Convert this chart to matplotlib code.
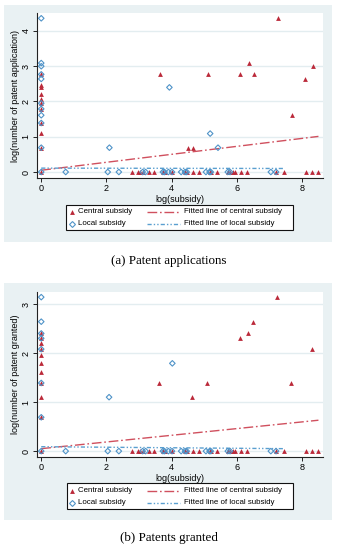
import matplotlib
matplotlib.use("Agg")
import matplotlib.pyplot as plt
from matplotlib.patches import Rectangle
from matplotlib.lines import Line2D

# ---------------- data ----------------
# shared zero-row x positions (log subsidy)
zero_central_x = [2.77, 2.96, 3.03, 3.11, 3.30, 3.46, 3.73, 3.78, 4.01, 4.41, 4.46, 4.64,
                  4.85, 5.16, 5.20, 5.38, 5.72, 5.79, 5.89, 5.94, 6.12, 6.32, 7.20, 7.43,
                  8.12, 8.30, 8.50]
zero_local_x = [0.75, 2.04, 2.38, 3.11, 3.20, 3.73, 3.78, 3.90, 4.01, 4.29, 4.41, 4.46,
                5.05, 5.16, 5.20, 5.72, 5.79, 7.04, 7.20]

# panel (a): patent applications
a_central_x = [0, 0, 0, 0, 0, 0, 0, 0, 0, 0, 0,
               3.63, 5.10, 6.10, 6.36, 6.51, 7.25, 7.70, 8.08, 8.33, 4.49, 4.64]
a_central_y = [2.77, 2.48, 2.40, 2.20, 2.08, 1.95, 1.79, 1.39, 1.10, 0.69, 0.0,
               2.77, 2.77, 2.77, 3.09, 2.77, 4.38, 1.61, 2.64, 3.00, 0.69, 0.69]
a_local_x = [0, 0, 0, 0, 0, 0, 0, 0, 0, 0, 0,
             3.93, 5.18, 2.09, 5.42]
a_local_y = [4.36, 3.09, 3.00, 2.77, 2.64, 1.95, 1.79, 1.61, 1.39, 0.69, 0.0,
             2.40, 1.09, 0.69, 0.69]
a_fit_central_x = [0.0, 8.5]
a_fit_central_y = [0.05, 1.01]
a_fit_local_x = [0.0, 7.43]
a_fit_local_y = [0.11, 0.10]

# panel (b): patents granted
b_central_x = [0, 0, 0, 0, 0, 0, 0, 0, 0, 0, 0,
               3.61, 4.62, 5.09, 6.09, 6.33, 6.49, 7.23, 7.66, 8.31]
b_central_y = [2.40, 2.30, 2.20, 2.08, 1.95, 1.79, 1.61, 1.39, 1.10, 0.69, 0.0,
               1.39, 1.10, 1.39, 2.30, 2.40, 2.64, 3.14, 1.39, 2.08]
b_local_x = [0, 0, 0, 0, 0, 0, 0, 0,
             2.08, 4.02]
b_local_y = [3.14, 2.64, 2.40, 2.30, 2.08, 1.39, 0.69, 0.0,
             1.10, 1.79]
b_fit_central_x = [0.0, 8.5]
b_fit_central_y = [0.05, 0.63]
b_fit_local_x = [0.0, 7.43]
b_fit_local_y = [0.09, 0.05]

x_ticks = [0, 2, 4, 6, 8]
a_y_ticks = [0, 1, 2, 3, 4]
b_y_ticks = [0, 1, 2, 3]

legend_labels = ["Central subsidy", "Local subsidy",
                 "Fitted line of central subsidy", "Fitted line of local subsidy"]
captions = ["(a) Patent applications", "(b) Patents granted"]
y_labels = ["log(number of patent application)", "log(number of patent granted)"]
x_label = "log(subsidy)"

# ---------------- style ----------------
W, H = 338, 550
RED = "#bb2a3a"
BLUE = "#4f93c8"
RED_LINE = "#d0505e"
BLUE_LINE = "#5a9fd0"
PANEL_BG = "#e9f1f3"
GRID = "#e3edf0"
FONT = "Liberation Sans"

fig = plt.figure(figsize=(W / 100, H / 100), dpi=100)
fig.patch.set_facecolor("white")

def fx(px):
    return px / W

def fy(py):
    return 1 - py / H

panels = [
    dict(box=(4, 5, 332, 242), ax=(37, 13, 323, 178), ylim=(-0.17, 4.51),
         leg=(66, 205, 293, 230), rows=(211.7, 223.7), cap=261,
         cx=a_central_x + zero_central_x, cy=a_central_y + [0.0] * len(zero_central_x),
         lx=a_local_x + zero_local_x, ly=a_local_y + [0.0] * len(zero_local_x),
         fcx=a_fit_central_x, fcy=a_fit_central_y, flx=a_fit_local_x, fly=a_fit_local_y,
         yt=a_y_ticks),
    dict(box=(4, 283, 332, 520), ax=(37, 292, 323, 457), ylim=(-0.12, 3.245),
         leg=(67, 483, 293, 509), rows=(490.7, 502.7), cap=538,
         cx=b_central_x + zero_central_x, cy=b_central_y + [0.0] * len(zero_central_x),
         lx=b_local_x + zero_local_x, ly=b_local_y + [0.0] * len(zero_local_x),
         fcx=b_fit_central_x, fcy=b_fit_central_y, flx=b_fit_local_x, fly=b_fit_local_y,
         yt=b_y_ticks),
]

central_dash = (7, 2, 1.2, 2)
local_dash = (3, 1.5, 1, 1.5, 1, 1.5)

for i, p in enumerate(panels):
    x0, y0, x1, y1 = p["box"]
    fig.patches.append(Rectangle((fx(x0), fy(y1)), fx(x1 - x0), (y1 - y0) / H,
                                 transform=fig.transFigure, facecolor=PANEL_BG,
                                 edgecolor="none", zorder=-5))
    ax0, ay0, ax1, ay1 = p["ax"]
    ax = fig.add_axes([fx(ax0), fy(ay1), fx(ax1 - ax0), (ay1 - ay0) / H], zorder=2)
    ax.set_facecolor("white")
    ax.set_xlim(-0.13, 8.64)
    ax.set_ylim(*p["ylim"])
    for s in ["top", "right"]:
        ax.spines[s].set_visible(False)
    for s in ["left", "bottom"]:
        ax.spines[s].set_color("#222222")
        ax.spines[s].set_linewidth(0.8)
    ax.set_xticks(x_ticks)
    ax.set_yticks(p["yt"])
    ax.tick_params(axis="both", length=3, width=0.7, color="#222222",
                   labelsize=6.5, pad=1.5)
    for lab in ax.get_xticklabels() + ax.get_yticklabels():
        lab.set_fontfamily(FONT)
    for lab in ax.get_yticklabels():
        lab.set_rotation(90)
        lab.set_va("center")
    ax.yaxis.grid(True, color=GRID, linewidth=1.0)
    ax.set_axisbelow(True)

    ax.plot(p["fcx"], p["fcy"], color=RED_LINE, lw=1.0, dashes=central_dash, zorder=2)
    ax.plot(p["flx"], p["fly"], color=BLUE_LINE, lw=1.0, dashes=local_dash, zorder=2)
    ax.scatter(p["cx"], p["cy"], marker="^", s=12, color=RED, linewidths=0, zorder=3,
               clip_on=False)
    ax.scatter(p["lx"], p["ly"], marker="D", s=8, facecolors="none",
               edgecolors=BLUE, linewidths=0.8, zorder=4, clip_on=False)

    ax.set_xlabel(x_label, fontsize=6.5, family=FONT, labelpad=1)
    ax.set_ylabel(y_labels[i], fontsize=6.5, family=FONT, labelpad=1)

    # legend drawn manually
    lx0, ly0, lx1, ly1 = p["leg"]
    fig.patches.append(Rectangle((fx(lx0), fy(ly1)), fx(lx1 - lx0), (ly1 - ly0) / H,
                                 transform=fig.transFigure, facecolor="white",
                                 edgecolor="#111111", linewidth=0.8, zorder=3))
    r1, r2 = p["rows"]
    fig.lines.append(Line2D([fx(72)], [fy(r1)], ls="none", marker="^", ms=3.5,
                            color=RED, mew=0, transform=fig.transFigure, zorder=4))
    fig.lines.append(Line2D([fx(72)], [fy(r2)], ls="none", marker="D", ms=3,
                            mfc="none", mec=BLUE, mew=0.8, transform=fig.transFigure,
                            zorder=4))
    fig.lines.append(Line2D([fx(147), fx(180)], [fy(r1), fy(r1)], color=RED_LINE,
                            lw=1.0, dashes=central_dash, transform=fig.transFigure,
                            zorder=4))
    fig.lines.append(Line2D([fx(147), fx(180)], [fy(r2), fy(r2)], color=BLUE_LINE,
                            lw=1.0, dashes=local_dash, transform=fig.transFigure,
                            zorder=4))
    for (tx, ty), lab in zip([(78, r1), (78, r2), (184, r1), (184, r2)], legend_labels):
        fig.text(fx(tx), fy(ty), lab, ha="left", va="center", fontsize=5.7,
                 family=FONT, zorder=5)

    fig.text(0.5, fy(p["cap"]), captions[i], ha="center", va="center",
             fontsize=9.4, family="Liberation Serif")

fig.savefig("out.png", dpi=100)
